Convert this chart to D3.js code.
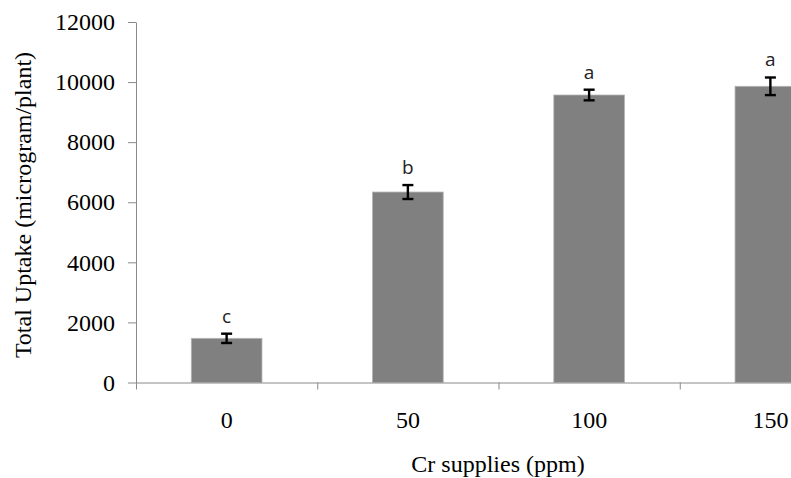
<!DOCTYPE html>
<html>
<head>
<meta charset="utf-8">
<script src="https://cdn.jsdelivr.net/npm/d3@7.9.0/dist/d3.min.js"></script>
<style>
  html, body { margin: 0; padding: 0; background: #fff; overflow: hidden; }
  svg { display: block; }
</style>
</head>
<body>
<div id="chart"></div>
<script>
// data
const categories = ["0", "50", "100", "150"];
const uptake = [1470, 6340, 9570, 9860];
const uptakeErr = [155, 232, 177, 293];
const letters = ["c", "b", "a", "a"];
const yTicks = [0, 2000, 4000, 6000, 8000, 10000, 12000];

const width = 791, height = 478;
const plotLeft = 136, plotTop = 22, plotBottom = 382.5;
const plotRight = 861; // the original plot runs past the right edge

const svg = d3.select("#chart").append("svg")
  .attr("width", width)
  .attr("height", height);

const x = d3.scaleBand()
  .domain(categories)
  .range([plotLeft, plotRight])
  .paddingInner(0.61)
  .paddingOuter(0.305);

// boundary positions for the category tick marks
const xEdge = d3.scaleLinear()
  .domain([0, categories.length])
  .range([plotLeft, plotRight]);

const y = d3.scaleLinear()
  .domain([0, 12000])
  .range([plotBottom, plotTop]);

const serif = "'Liberation Serif', 'Times New Roman', serif";
const axisColor = "#8a8a8a";

// bars
svg.append("g")
  .selectAll("rect")
  .data(uptake)
  .join("rect")
  .attr("x", (d, i) => x(categories[i]))
  .attr("y", d => y(d))
  .attr("width", x.bandwidth())
  .attr("height", d => y(0) - y(d))
  .attr("fill", "#808080")
  .attr("stroke", "#b4b4b4")
  .attr("stroke-width", 0.8);

// y axis
const yAxis = svg.append("g")
  .attr("transform", `translate(${plotLeft},0)`)
  .call(d3.axisLeft(y).tickValues(yTicks).tickFormat(d3.format("d"))
    .tickSize(8).tickSizeOuter(0).tickPadding(13));
yAxis.select(".domain").attr("stroke", axisColor);
yAxis.selectAll(".tick line").attr("stroke", axisColor);
yAxis.selectAll(".tick text")
  .attr("font-family", serif)
  .attr("font-size", 24)
  .attr("fill", "#000");

// x axis: line and boundary ticks
const xAxisLine = svg.append("g")
  .attr("transform", `translate(0,${plotBottom})`)
  .call(d3.axisBottom(xEdge).tickValues(d3.range(categories.length + 1)).tickSize(7).tickSizeOuter(0).tickFormat(""));
xAxisLine.select(".domain").attr("stroke", axisColor);
xAxisLine.selectAll(".tick line").attr("stroke", axisColor);

// x axis: category labels
const xAxisLabels = svg.append("g")
  .attr("transform", `translate(0,${plotBottom})`)
  .call(d3.axisBottom(x).tickSize(0).tickPadding(28));
xAxisLabels.select(".domain").remove();
xAxisLabels.selectAll(".tick text")
  .attr("font-family", serif)
  .attr("font-size", 24)
  .attr("fill", "#000");

// error bars
const capW = 5.5;
const err = svg.append("g")
  .attr("stroke", "#000")
  .attr("stroke-width", 2.4)
  .attr("fill", "none");
uptake.forEach((v, i) => {
  const cx = x(categories[i]) + x.bandwidth() / 2;
  const y1 = y(v + uptakeErr[i]);
  const y0 = y(v - uptakeErr[i]);
  err.append("line").attr("x1", cx).attr("x2", cx).attr("y1", y1).attr("y2", y0);
  err.append("line").attr("x1", cx - capW).attr("x2", cx + capW).attr("y1", y1).attr("y2", y1);
  err.append("line").attr("x1", cx - capW).attr("x2", cx + capW).attr("y1", y0).attr("y2", y0);
});

// significance letters
svg.append("g")
  .selectAll("text")
  .data(letters)
  .join("text")
  .attr("x", (d, i) => x(categories[i]) + x.bandwidth() / 2)
  .attr("y", (d, i) => y(uptake[i] + uptakeErr[i]) - 11)
  .attr("text-anchor", "middle")
  .attr("font-family", "'Open Sans', 'Liberation Sans', sans-serif")
  .attr("font-size", 19)
  .attr("fill", "#222")
  .text(d => d);

// axis titles
svg.append("text")
  .attr("x", 498)
  .attr("y", 472)
  .attr("text-anchor", "middle")
  .attr("font-family", serif)
  .attr("font-size", 24)
  .attr("fill", "#000")
  .text("Cr supplies (ppm)");

svg.append("text")
  .attr("transform", "translate(31,205) rotate(-90)")
  .attr("text-anchor", "middle")
  .attr("font-family", serif)
  .attr("font-size", 24)
  .attr("fill", "#000")
  .text("Total Uptake (microgram/plant)");
</script>
</body>
</html>
